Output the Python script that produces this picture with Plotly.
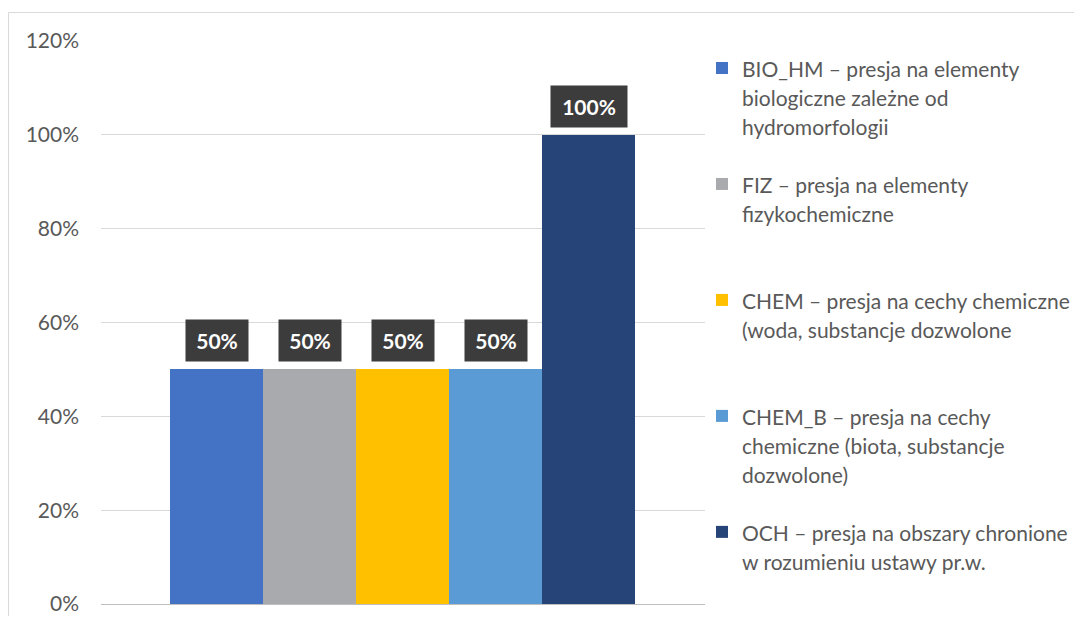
import plotly.graph_objects as go

# ---- data ----
series = ["BIO_HM", "FIZ", "CHEM", "CHEM_B", "OCH"]
values = [0.50, 0.50, 0.50, 0.50, 1.00]
legend_lines = [
    ["BIO_HM – presja na elementy", "biologiczne zależne od", "hydromorfologii"],
    ["FIZ – presja na elementy", "fizykochemiczne"],
    ["CHEM – presja na cechy chemiczne", "(woda, substancje dozwolone"],
    ["CHEM_B – presja na cechy", "chemiczne (biota, substancje", "dozwolone)"],
    ["OCH – presja na obszary chronione", "w rozumieniu ustawy pr.w."],
]
y_ticks = [0, 0.2, 0.4, 0.6, 0.8, 1.0, 1.2]

# ---- styles ----
colors = ["#4472C4", "#A9AAAE", "#FFC000", "#5B9BD5", "#264478"]
FONT = "Lato"
GRAY = "#595959"
# page body has an 8px margin; figure sized to fit the 1082x624 window
W, H = 1066, 608
L, R, T, B = 93, 369, 33, 12

fig = go.Figure()
for i, name in enumerate(series):
    lines = legend_lines[i]
    pad = 3 - len(lines)
    txt = '<span style="font-size:21px">' + "<br>".join(lines) + "</span>" + "<br> " * pad
    fig.add_trace(go.Bar(
        x=[name], y=[values[i]], name=txt,
        marker=dict(color=colors[i], line=dict(width=0)),
        legendgroup=name, hoverinfo="skip",
    ))
    label = "%d%%" % round(values[i] * 100)
    fig.add_annotation(
        x=name, y=values[i], xref="x", yref="y",
        text="<b>" + label + "</b>",
        showarrow=False, yanchor="bottom", yshift=7,
        bgcolor="#3c3c3c", borderpad=7,
        width=14 * len(label) + 6, height=27,
        font=dict(family=FONT, size=21, color="white"),
    )

pw = W - L - R
ph = H - T - B
fig.add_shape(
    type="rect", xref="paper", yref="paper",
    x0=(0.5 - L) / pw, x1=(W + 10 - L) / pw,
    y0=-0.2, y1=1 + (T - 4.5) / ph,
    line=dict(color="#d9d9d9", width=1), fillcolor="rgba(0,0,0,0)", layer="below",
)

fig.update_layout(
    width=W, height=H,
    margin=dict(l=L, r=R, t=T, b=B, autoexpand=False),
    paper_bgcolor="white", plot_bgcolor="white",
    barmode="overlay", bargap=0,
    showlegend=True,
    legend=dict(
        xref="container", yref="container",
        x=694 / W, xanchor="left",
        y=1 - 39 / H, yanchor="top",
        font=dict(family=FONT, size=22.3, color=GRAY),
        traceorder="grouped", tracegroupgap=26,
        valign="top", bgcolor="rgba(0,0,0,0)",
        maxheight=600,
    ),
    font=dict(family=FONT, color=GRAY),
)
fig.update_xaxes(
    type="category", range=[-0.5 - 69 / 93, 4.5 + 70 / 93],
    showticklabels=False, showgrid=False, zeroline=False, showline=False, ticks="",
)
fig.update_yaxes(
    range=[0, 1.2], tickvals=y_ticks, tickformat=".0%",
    showgrid=True, gridcolor="#d9d9d9", gridwidth=1,
    zeroline=True, zerolinecolor="#bfbfbf", zerolinewidth=1,
    showline=False, ticks="", ticklabelstandoff=21,
    tickfont=dict(family=FONT, size=21, color=GRAY),
)

fig.write_html("out.html")
